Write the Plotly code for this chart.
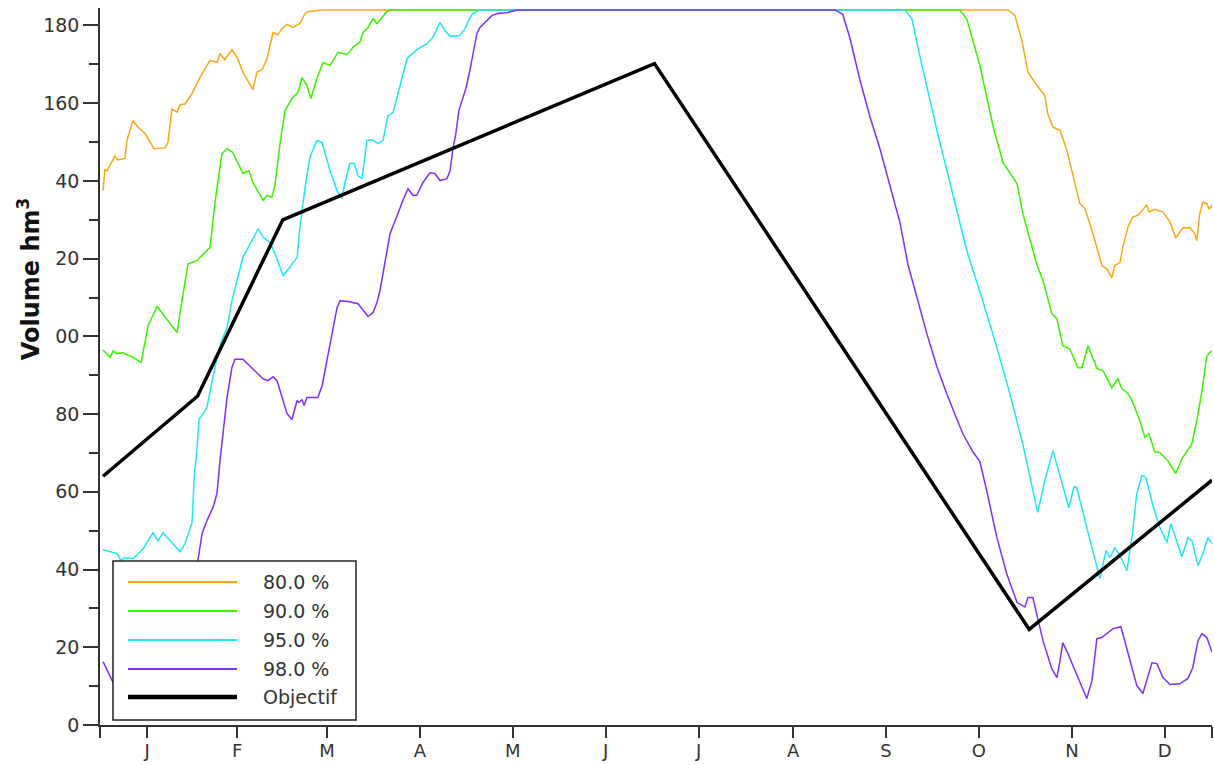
import plotly.graph_objects as go

# ---------------- data (day of year, volume hm3) ----------------
month_labels = ["J", "F", "M", "A", "M", "J", "J", "A", "S", "O", "N", "D"]
month_mid_days = [15.5, 45, 74.5, 105, 135.5, 166, 196.5, 227.5, 258, 288.5, 319, 349.5]
y_major = [0, 20, 40, 60, 80, 100, 120, 140, 160, 180]
y_minor = [10, 30, 50, 70, 90, 110, 130, 150, 170]

series_names = ["80.0 %", "90.0 %", "95.0 %", "98.0 %", "Objectif"]

days_80 = [1, 1.6, 2.3, 4.9, 5.9, 8.2, 8.9, 10.8, 12.5, 14.8, 17.7, 21.3, 22.3, 23.6, 25.3, 26.3,
           27.9, 30.2, 32.8, 36.1, 38.4, 39.4, 41, 43.3, 45, 46.9, 50.2, 51.5, 53.2, 54.8, 56.8,
           58.4, 59.7, 61.4, 63.3, 65.6, 67.3, 68.3, 73.2, 298, 300.3, 302.6, 304.6, 307.5, 310.1,
           311.1, 312.8, 315.1, 317.4, 319.3, 321.6, 323.3, 325.9, 328.9, 330.5, 332.1, 333.1,
           334.8, 335.7, 337.4, 339, 340.7, 343.6, 344.3, 346.2, 348.9, 351.2, 353.1, 355.4,
           357.7, 359.4, 360, 361, 362, 363.3, 364, 365]
vals_80 = [137.5, 143, 142.6, 146.4, 145.4, 145.8, 150.6, 155.5, 153.8, 152.2, 148.3, 148.5, 149.9,
           158.5, 157.7, 159.6, 159.8, 162.5, 166.6, 171, 170.5, 172.8, 171.2, 173.8, 171.8, 168,
           163.5, 168, 168.6, 171.4, 178.2, 177.6, 179.2, 180.3, 179.5, 180.5, 183.1, 183.6, 184,
           184, 182.6, 176.1, 168, 164.6, 162, 157.3, 153.8, 153, 147.8, 141.9, 134.2, 132.9,
           126.4, 118.2, 117.4, 115.1, 118.2, 119, 122.9, 128.1, 130.7, 131.2, 133.8, 132, 132.7,
           132, 129.5, 125.3, 127.9, 128, 126.4, 124.6, 131.6, 134.5, 134.2, 132.7, 133.8]

days_90 = [1, 3.3, 4.3, 5.6, 7.5, 10.8, 13.5, 15.8, 18.7, 22, 25.3, 26.9, 28.9, 31.8, 36.1, 37.7,
           40, 41.7, 43.6, 46.9, 48.9, 50.2, 53.5, 54.8, 56.4, 57.4, 59.1, 60.7, 63, 65, 66.3, 67.9,
           69.2, 71.2, 73.2, 75.5, 78.1, 81.1, 83, 85.3, 86.3, 88, 89.6, 90.9, 92.5, 94.2, 95.5,
           282.2, 284.5, 288.8, 293.1, 296.4, 301, 302.9, 307.5, 309.5, 312.4, 314.1, 316, 318.3,
           321, 322.3, 324.3, 327.2, 329.2, 332.1, 334.1, 335.4, 337.4, 339, 341.3, 343, 344.3,
           346.2, 347.9, 350.5, 353.1, 355.1, 358.4, 360, 361.7, 363.3, 365]
vals_90 = [96.5, 94.6, 96.2, 95.6, 95.8, 94.6, 93.3, 102.8, 107.7, 104.5, 101, 109.2, 118.7, 119.5,
           122.9, 134.2, 147, 148.3, 147.3, 141.9, 142.6, 139.6, 135, 136.3, 135.8, 138.8, 149.6,
           158.1, 161.2, 162.8, 166.6, 164.6, 161.2, 166.4, 170.5, 169.7, 173.1, 172.5, 174.4,
           175.7, 178.2, 179.5, 181.8, 180.5, 182, 183.6, 184, 184, 181.7, 169.7, 154.2, 144.7,
           139.3, 131.6, 118.5, 114.4, 105.9, 104.5, 97.6, 96.8, 91.9, 91.9, 97.6, 91.7, 91.2,
           86.8, 89.1, 86.6, 85.3, 83, 78.3, 74, 75, 70.3, 70.1, 68, 64.7, 68.5, 72.4, 78.3, 86,
           95, 96.3]

days_95 = [1, 5.6, 6.9, 8.2, 10.8, 14.1, 17.4, 19, 20.7, 24, 26.3, 27.9, 30.2, 31, 31.8, 32.5,
           33.5, 35.1, 36.8, 38.4, 40, 41.7, 43.3, 46.9, 51.9, 53.5, 55.8, 57.4, 60.1, 64.7, 65.6,
           67.3, 68.9, 71.2, 72.9, 75.5, 77.8, 79.4, 80.4, 82, 83.4, 84.7, 86, 87.6, 89.3, 91.2,
           92.9, 94.5, 96.2, 97.8, 99.1, 100.8, 104, 107.3, 109.3, 111.6, 113.2, 114.9, 118.1,
           119.8, 121.4, 122.4, 124.7,
           264.2, 266.5, 269.1, 274.7, 279.9, 284.5, 289.8, 294.4, 298.7, 302.9, 307.8, 310.1,
           312.8, 315.7, 318, 319.7, 320.6, 323.9, 328.2, 330.2, 331.5, 333.1, 334.8, 337.1,
           338.7, 340.3, 342, 343.3, 345.6, 347.9, 350.2, 351.5, 353.1, 355.1, 357.1, 358.4,
           360.4, 362, 363.6, 365]
vals_95 = [45.1, 44.1, 42.3, 43.1, 42.8, 45.3, 49.5, 47.4, 49.5, 46.7, 44.6, 46.7, 52, 64.7, 70.6,
           78.8, 79.6, 81.7, 87.9, 94.6, 99, 102.3, 109.2, 120.3, 127.7, 125.5, 124.2, 121.3,
           115.6, 120.3, 128, 138.3, 146.1, 150.4, 149.9, 142.6, 137.5, 135.5, 139.6, 144.5,
           144.5, 141.4, 140.6, 150.4, 150.6, 149.6, 150.4, 156.8, 157.6, 162.5, 165.8, 171.5,
           173.8, 175.3, 177, 180.8, 178.7, 177.2, 177.4, 179.2, 182, 183.1, 184,
           184, 181.7, 172.1, 153, 136.5, 122.1, 109, 97.1, 85.1, 72.2, 54.7, 62.9, 70.6, 62.1,
           55.9, 61.3, 61.1, 50.8, 37.7, 44.9, 43.1, 45.6, 43.6, 39.7, 48.2, 59.5, 64.2, 63.7,
           56.5, 50.8, 47, 51.8, 48.2, 43.3, 48.2, 47.4, 41, 44.1, 48.2, 46.7]

days_98 = [1, 4.3, 10, 20, 28, 32.2, 33.5, 35.1, 37.1, 38.4, 39.4, 40.4, 41.7, 43.3, 44.3, 46.9,
           50.2, 53.5, 55.1, 56.8, 58.1, 59.7, 61.4, 63, 64.7, 65.3, 66.3, 67, 67.9, 69.6, 71.5,
           72.9, 74.5, 76.1, 77.8, 78.8, 81.4, 84.7, 88, 89.6, 90.9, 91.9, 95.2, 97.8, 99.4,
           101.1, 102.7, 104, 106, 108.3, 109.9, 111.6, 113.9, 114.9, 115.9, 116.8, 117.8, 118.8,
           120.1, 121.4, 122.7, 123.7, 124.7, 127, 128.7, 130.6, 133.6, 136.9,
           241.2, 243.8, 246.1, 249.4, 252.7, 256, 259.3, 262.6, 265.2, 268.1, 271.4, 274.7, 278,
           281.3, 283.2, 286.5, 288.8, 291.1, 294.4, 297.7, 301, 303.6, 304.6, 306.2, 307.5,
           309.5, 312.4, 314.1, 315.1, 316, 317.7, 319.3, 322.3, 323.9, 325.6, 327.2, 328.8,
           330.8, 332.5, 335.1, 336.4, 338.7, 340.3, 342.3, 343.6, 345.3, 346.9, 348.9, 351.2,
           354.4, 357.1, 358.7, 360.4, 361.7, 363.3, 365]
vals_98 = [16.3, 10.9, 12, 15, 32, 42.7, 49.2, 52.6, 56, 59.6, 68.1, 75.8, 84.3, 92, 94.1, 94.1,
           91.7, 89.1, 88.6, 89.6, 88.6, 84.3, 80.1, 78.6, 83.5, 83, 83.7, 82.2, 84.3, 84.3, 84.3,
           87.3, 93.7, 100.7, 107.4, 109.2, 109, 108.4, 105.1, 106.1, 108.7, 111.8, 126.4, 131.6,
           135, 138, 136.3, 136.3, 139.6, 142.1, 141.9, 140.1, 140.6, 142.6, 148.6, 152.2, 158.1,
           160.6, 163.8, 168.4, 173.6, 177.9, 179.5, 181.3, 182.6, 183.1, 183.3, 184,
           184, 182.9, 176.9, 166.1, 156.6, 148.3, 138.8, 129.2, 118.5, 110.2, 100.7, 92.2, 85.1,
           78.6, 75, 70.3, 67.8, 60.1, 48.2, 38.7, 31.5, 30.4, 32.8, 32.8, 28.7, 21.7, 14.5, 12.2,
           16.5, 21.2, 18.4, 15.3, 9.6, 6.8, 11.4, 22.2, 22.5, 23.8, 24.8, 25.3, 21.7, 14.8, 10.2,
           8.1, 11.4, 16, 15.8, 12.2, 10.4, 10.6, 12, 14.8, 21.7, 23.5, 22.5, 18.7]

days_obj = [1, 32, 60, 182, 305, 365]
vals_obj = [64, 84.6, 130, 170.2, 24.6, 63]

# ---------------- styling ----------------
colors = ["#FFA514", "#38F500", "#1EE6FF", "#7F2FFF", "#000000"]
widths = [1.5, 1.5, 1.5, 1.5, 3.5]
FONT = "DejaVu Sans"
AX = "#333333"

W, H = 1214, 765
ML, MR, MT, MB = 100, 2, 8, 40
PW, PH = W - ML - MR, H - MT - MB


def paper(px, py):
    return (px - ML) / PW, (H - MB - py) / PH


fig = go.Figure()
all_days = [days_80, days_90, days_95, days_98, days_obj]
all_vals = [vals_80, vals_90, vals_95, vals_98, vals_obj]
for name, d, v, c, w in zip(series_names, all_days, all_vals, colors, widths):
    fig.add_trace(go.Scatter(x=d, y=v, mode="lines", name=name,
                             line=dict(color=c, width=w), showlegend=False))

shapes = []
annotations = []

# custom legend box (white, drawn above the lines)
x0, y0 = paper(113, 720)
x1, y1 = paper(356, 561)
shapes.append(dict(type="rect", xref="paper", yref="paper", x0=x0, y0=y0, x1=x1, y1=y1,
                   fillcolor="white", line=dict(color="#222222", width=1.5), layer="above"))
row_y = [582, 611, 640, 669, 697]
for name, c, w, ry in zip(series_names, colors, widths, row_y):
    lx0, ly = paper(128, ry)
    lx1, _ = paper(237, ry)
    shapes.append(dict(type="line", xref="paper", yref="paper", x0=lx0, x1=lx1, y0=ly, y1=ly,
                       line=dict(color=c, width=w + (1 if w > 2 else 0.3)), layer="above"))
    tx, _ = paper(261, ry)
    annotations.append(dict(xref="paper", yref="paper", x=tx, y=ly, text=name, showarrow=False,
                            xanchor="left", yanchor="middle",
                            font=dict(family=FONT, size=19, color="#333333")))

# y-axis title with white background
tx, ty = paper(29, 279)
annotations.append(dict(xref="paper", yref="paper", x=tx, y=ty, text="Volume hm<sup>3</sup>",
                        showarrow=False, textangle=-90, xanchor="center", yanchor="middle",
                        bgcolor="white", width=214, height=48,
                        font=dict(family=FONT, size=24, color="#111111", weight="bold")))

fig.update_layout(
    width=W, height=H,
    margin=dict(l=ML, r=MR, t=MT, b=MB, pad=0, autoexpand=False),
    paper_bgcolor="white", plot_bgcolor="white",
    shapes=shapes, annotations=annotations,
    xaxis=dict(range=[0, 365], tickmode="array", tickvals=month_mid_days, ticktext=month_labels,
               automargin=False,
               ticks="outside", ticklen=11, tickwidth=1.5, tickcolor=AX, ticklabelstandoff=-2,
               showline=True, linecolor=AX, linewidth=1.5, showgrid=False, zeroline=False,
               tickfont=dict(family=FONT, size=18, color="#333333"),
               minor=dict(tickmode="array", tickvals=[0, 365], ticks="outside", ticklen=11,
                          tickwidth=1.5, tickcolor=AX, showgrid=False)),
    yaxis=dict(range=[0, 184.5], tickmode="array", tickvals=y_major,
               ticktext=[str(v) for v in y_major], automargin=False,
               ticks="outside", ticklen=15, tickwidth=1.5, tickcolor=AX,
               showline=True, linecolor=AX, linewidth=1.5, showgrid=False, zeroline=False,
               tickfont=dict(family=FONT, size=19, color="#333333"),
               minor=dict(tickmode="array", tickvals=y_minor, ticks="outside", ticklen=9,
                          tickwidth=1.5, tickcolor=AX, showgrid=False)),
)

fig.write_html("out.html", config={"displayModeBar": False},
               post_script="document.body.style.margin='0';document.body.style.overflow='hidden';")
